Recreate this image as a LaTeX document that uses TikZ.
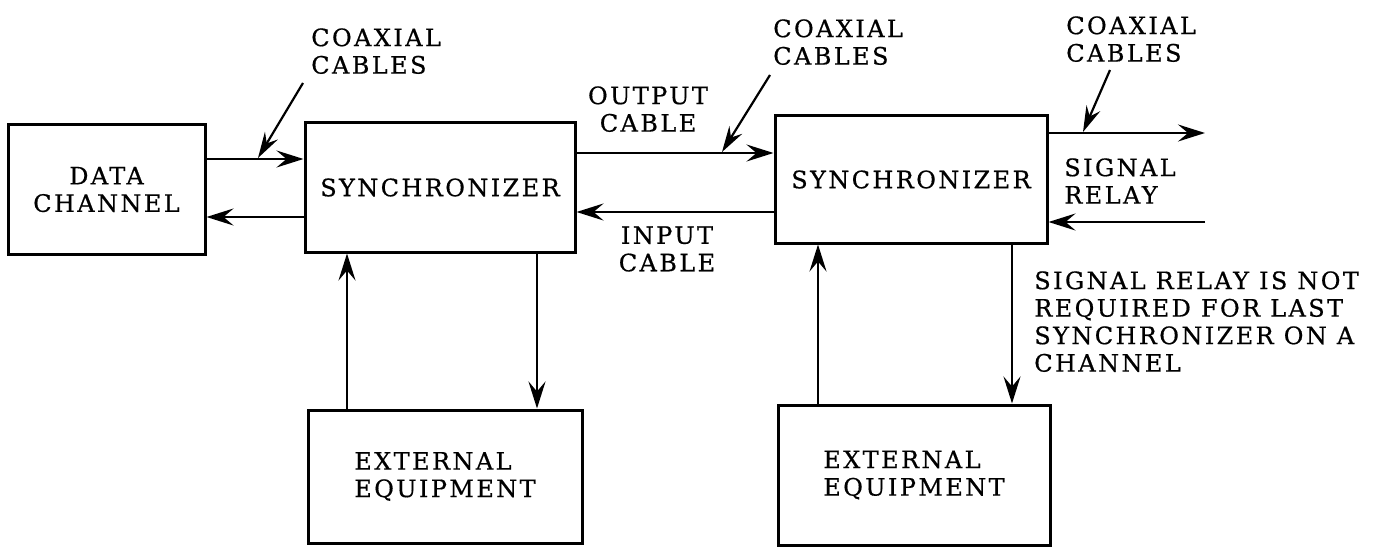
\documentclass[tikz,border=0pt]{standalone}
\usepackage{fontspec}
\setmainfont{DejaVu Serif}[LetterSpace=10,FakeBold=0.6]
\usetikzlibrary{arrows.meta}
\begin{document}
\begin{tikzpicture}[x=1pt,y=-1pt, line width=2.6pt,
  arr/.style={-{Stealth[length=27pt,width=17pt,inset=10pt]}},
  box/.style={draw, line width=3pt, rectangle, align=center, inner sep=0pt, font=\fontsize{24}{27.5}\selectfont},
  lbl/.style={inner sep=0pt, align=left, anchor=north west, font=\fontsize{24}{27.5}\selectfont},
  leader/.style={-{Stealth[length=26pt,width=15pt,inset=9pt]}, line width=2.2pt}]
\fill[white] (0,0) rectangle (1392,548);
\useasboundingbox (0,0) rectangle (1392,548);

\node[box, minimum width=197pt, minimum height=129pt] (dc) at (106.5,189.5) {DATA\\CHANNEL};
\node[box, minimum width=270pt, minimum height=129pt] (s1) at (440,187.5) {SYNCHRONIZER};
\node[box, minimum width=272pt, minimum height=127pt] (s2) at (911,179.5) {SYNCHRONIZER};
\node[box, minimum width=274pt, minimum height=133pt, align=left] (e1) at (445,476.5) {EXTERNAL\\EQUIPMENT};
\node[box, minimum width=272pt, minimum height=140pt, align=left] (e2) at (914,475) {EXTERNAL\\EQUIPMENT};

\draw[arr] (dc.east |- 0,159) -- (s1.west |- 0,159);
\draw[arr] (s1.west |- 0,217) -- (dc.east |- 0,217);
\draw[arr] (s1.east |- 0,153) -- (s2.west |- 0,153);
\draw[arr] (s2.west |- 0,212) -- (s1.east |- 0,212);
\coordinate (outR) at (1205,133);
\coordinate (inR) at (1205,222);
\draw[arr] (s2.east |- outR) -- (outR);
\draw[arr] (inR) -- (s2.east |- inR);
\draw[arr] (e1.north -| 347,0) -- (s1.south -| 347,0);
\draw[arr] (s1.south -| 537,0) -- (e1.north -| 537,0);
\draw[arr] (e2.north -| 818,0) -- (s2.south -| 818,0);
\draw[arr] (s2.south -| 1012,0) -- (e2.north -| 1012,0);

\coordinate (l1) at (303,83);  \coordinate (t1) at (258,158);
\coordinate (l2) at (770,75);  \coordinate (t2) at (722,152);
\coordinate (l3) at (1110,70); \coordinate (t3) at (1083,132);
\draw[leader] (l1) -- (t1);
\draw[leader] (l2) -- (t2);
\draw[leader] (l3) -- (t3);

\node[lbl] (coax1) at (310,27) {COAXIAL\\CABLES};
\node[lbl] (coax2) at (772,18) {COAXIAL\\CABLES};
\node[lbl] (coax3) at (1065,15) {COAXIAL\\CABLES};
\node[lbl, anchor=north, align=center] (outc) at (648,85) {OUTPUT\\CABLE};
\node[lbl, anchor=north, align=center] (inc) at (667,225) {INPUT\\CABLE};
\node[lbl] (sr) at (1063,157) {SIGNAL\\RELAY};
\node[lbl] (note) at (1033,270) {SIGNAL RELAY IS NOT\\REQUIRED FOR LAST\\SYNCHRONIZER ON A\\CHANNEL};
\end{tikzpicture}
\end{document}
